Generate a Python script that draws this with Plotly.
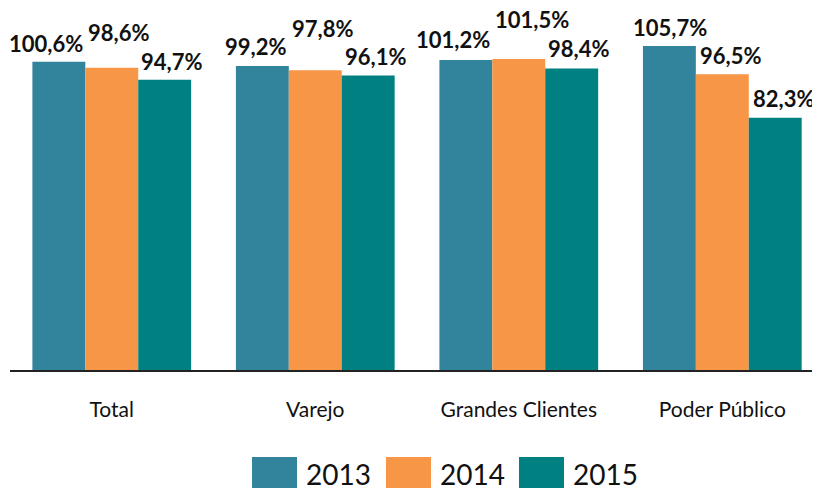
import plotly.graph_objects as go

categories = ["Total", "Varejo", "Grandes Clientes", "Poder Público"]
years = ["2013", "2014", "2015"]
values_2013 = [100.6, 99.2, 101.2, 105.7]
values_2014 = [98.6, 97.8, 101.5, 96.5]
values_2015 = [94.7, 96.1, 98.4, 82.3]

colors = ["#31849B", "#F79646", "#008080"]
series = [values_2013, values_2014, values_2015]

# hand-placed label nudges (px) as in the original, per series/category
label_dx = [[-13, -7, -13, 1], [7, 7, 13, 8], [7, 7, 7, 8]]
label_dy = [[17, 19, 19, 18], [34, 41, 38, 18], [17, 18, 19, 18]]

# page body adds an 8px margin, so size the figure to what stays visible
W, H = 812, 480
ML, MR, MT, MB = 2, 0, 9, 118
PW, PH = W - ML - MR, H - MT - MB
BARGAP = 0.22
X_RANGE = [-0.5, 3.48]  # original plot area runs slightly past the right edge
cat_px = PW / (X_RANGE[1] - X_RANGE[0])
bar_px = cat_px * (1 - BARGAP) / len(years)

fig = go.Figure()
for year, vals, color in zip(years, series, colors):
    fig.add_trace(go.Bar(
        x=categories, y=vals, name=year,
        marker=dict(color=color, line=dict(width=0)),
        showlegend=False,
    ))

# data labels
for i, vals in enumerate(series):
    for j, (cat, v) in enumerate(zip(categories, vals)):
        fig.add_annotation(
            x=cat, y=v, xref="x", yref="y",
            text=f"{v:.1f}%".replace(".", ","), showarrow=False,
            xanchor="center", yanchor="middle",
            xshift=(i - 1) * bar_px + label_dx[i][j],
            yshift=label_dy[i][j] + 1,
            font=dict(family="Lato", size=22, color="#111", weight="bold"),
        )

# legend drawn as boxes + text to match the large swatches (screen px -> paper)
def px(x):
    return (x - 8 - ML) / PW

def py(y):
    return (H + 8 - MB - y) / PH

legend_x = [252, 386, 519]
for year, color, lx in zip(years, colors, legend_x):
    fig.add_shape(type="rect", xref="paper", yref="paper",
                  x0=px(lx), x1=px(lx + 45), y0=py(488), y1=py(457),
                  fillcolor=color, line=dict(width=0))
    fig.add_annotation(x=px(lx + 52), y=py(474), xref="paper", yref="paper",
                       text=year, showarrow=False, xanchor="left", yanchor="middle",
                       font=dict(family="Lato", size=28, color="#111"))

fig.update_layout(
    width=W, height=H,
    margin=dict(l=ML, r=MR, t=MT, b=MB, autoexpand=False),
    barmode="group", bargap=BARGAP, bargroupgap=0,
    plot_bgcolor="white", paper_bgcolor="white",
    separators=",.",
    font=dict(family="Lato", color="#111"),
)
fig.update_xaxes(range=X_RANGE, showline=True, linecolor="#222", linewidth=1.5,
                 tickfont=dict(family="Lato", size=21, color="#111"),
                 ticks="", ticklabelstandoff=20, automargin=False)
fig.update_yaxes(range=[0, 115.2], visible=False, showgrid=False)

fig.write_html("out.html")
